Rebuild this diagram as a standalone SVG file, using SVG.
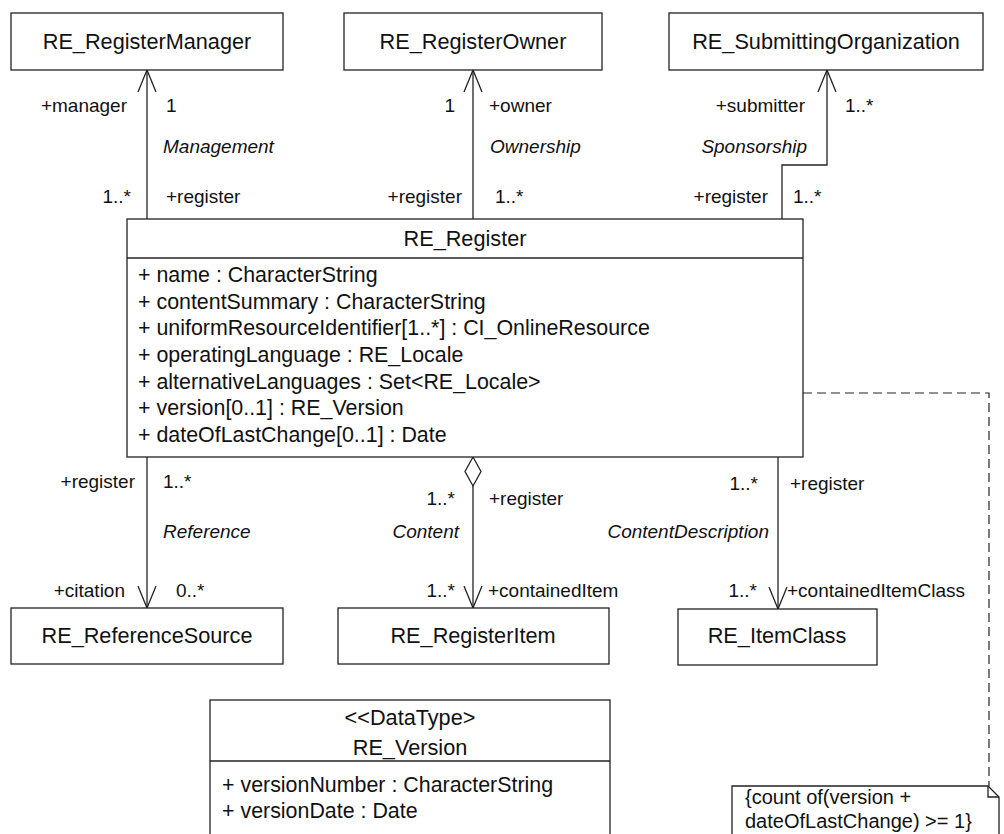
<svg xmlns="http://www.w3.org/2000/svg" width="1004" height="834" viewBox="0 0 1004 834">
<style>
  .box { fill: #ffffff; stroke: #222222; stroke-width: 1.3; }
  .ln { fill: none; stroke: #222222; stroke-width: 1.3; }
  .dash { fill: none; stroke: #222222; stroke-width: 1.2; stroke-dasharray: 9,5; }
  .cls { font-family: "Liberation Sans", Arial, sans-serif; font-size: 21.7px; fill: #111111; text-anchor: middle; }
  .attr { font-family: "Liberation Sans", Arial, sans-serif; font-size: 21.4px; fill: #111111; }
  .note { font-family: "Liberation Sans", Arial, sans-serif; font-size: 20px; fill: #111111; }
  .lbl { font-family: "Liberation Sans", Arial, sans-serif; font-size: 19px; fill: #111111; }
  .end { text-anchor: end; }
  .it { font-style: italic; }
</style>
<defs>
  <marker id="open" viewBox="0 -10 23 20" refX="22" refY="0" markerWidth="23" markerHeight="20" orient="auto" markerUnits="userSpaceOnUse">
    <path d="M0,-9 L22,0 L0,9" fill="none" stroke="#222222" stroke-width="1.3"/>
  </marker>
</defs>
<rect width="1004" height="834" fill="#ffffff"/>

<g id="connectors">
  <path class="ln" d="M147,219 V70" marker-end="url(#open)"/>
  <path class="ln" d="M473,219 V70" marker-end="url(#open)"/>
  <path class="ln" d="M782,219 V165 H827 V70" marker-end="url(#open)"/>
  <path class="ln" d="M147,457 V608" marker-end="url(#open)"/>
  <path class="ln" d="M473,486 V608" marker-end="url(#open)"/>
  <path class="box" d="M473,457 L481,471.5 L473,486 L465,471.5 Z"/>
  <path class="ln" d="M778,457 V609" marker-end="url(#open)"/>
  <path class="dash" d="M803,393 H989 V786"/>

  <text class="lbl end" x="127" y="112">+manager</text>
  <text class="lbl" x="166" y="112">1</text>
  <text class="lbl it" x="163" y="153">Management</text>
  <text class="lbl end" x="131" y="203">1..*</text>
  <text class="lbl" x="166" y="203">+register</text>

  <text class="lbl end" x="455" y="112">1</text>
  <text class="lbl" x="489" y="112">+owner</text>
  <text class="lbl it" x="490" y="153">Ownership</text>
  <text class="lbl end" x="462" y="203">+register</text>
  <text class="lbl" x="495" y="203">1..*</text>

  <text class="lbl end" x="805" y="112">+submitter</text>
  <text class="lbl" x="845" y="112">1..*</text>
  <text class="lbl it end" x="807" y="153">Sponsorship</text>
  <text class="lbl end" x="768" y="203">+register</text>
  <text class="lbl" x="793" y="203">1..*</text>

  <text class="lbl end" x="135" y="488">+register</text>
  <text class="lbl" x="163" y="488">1..*</text>
  <text class="lbl it" x="163" y="538">Reference</text>
  <text class="lbl end" x="125" y="597">+citation</text>
  <text class="lbl" x="176" y="597">0..*</text>

  <text class="lbl end" x="455" y="505">1..*</text>
  <text class="lbl" x="489" y="505">+register</text>
  <text class="lbl it end" x="459" y="538">Content</text>
  <text class="lbl end" x="455" y="597">1..*</text>
  <text class="lbl" x="488" y="597">+containedItem</text>

  <text class="lbl end" x="758" y="490">1..*</text>
  <text class="lbl" x="790" y="490">+register</text>
  <text class="lbl it end" x="769" y="538">ContentDescription</text>
  <text class="lbl end" x="757" y="597">1..*</text>
  <text class="lbl" x="787" y="597">+containedItemClass</text>
</g>

<g id="RE_RegisterManager">
  <rect class="box" x="11" y="13" width="272" height="57"/>
  <text class="cls" x="147" y="49">RE_RegisterManager</text>
</g>
<g id="RE_RegisterOwner">
  <rect class="box" x="344" y="13" width="258" height="57"/>
  <text class="cls" x="473" y="49">RE_RegisterOwner</text>
</g>
<g id="RE_SubmittingOrganization">
  <rect class="box" x="669" y="13" width="314" height="57"/>
  <text class="cls" x="826" y="49">RE_SubmittingOrganization</text>
</g>

<g id="RE_Register">
  <rect class="box" x="127" y="219" width="676" height="238"/>
  <line class="ln" x1="127" y1="258" x2="803" y2="258"/>
  <text class="cls" x="465" y="246">RE_Register</text>
  <text class="attr" x="138" y="282">+ name : CharacterString</text>
  <text class="attr" x="138" y="308.7">+ contentSummary : CharacterString</text>
  <text class="attr" x="138" y="335.3">+ uniformResourceIdentifier[1..*] : CI_OnlineResource</text>
  <text class="attr" x="138" y="362">+ operatingLanguage : RE_Locale</text>
  <text class="attr" x="138" y="388.7">+ alternativeLanguages : Set&lt;RE_Locale&gt;</text>
  <text class="attr" x="138" y="415.3">+ version[0..1] : RE_Version</text>
  <text class="attr" x="138" y="442">+ dateOfLastChange[0..1] : Date</text>
</g>

<g id="RE_ReferenceSource">
  <rect class="box" x="11" y="608" width="272" height="56"/>
  <text class="cls" x="147" y="643">RE_ReferenceSource</text>
</g>
<g id="RE_RegisterItem">
  <rect class="box" x="338" y="608" width="271" height="56"/>
  <text class="cls" x="473" y="643">RE_RegisterItem</text>
</g>
<g id="RE_ItemClass">
  <rect class="box" x="678" y="609" width="199" height="56"/>
  <text class="cls" x="777" y="643">RE_ItemClass</text>
</g>

<g id="RE_Version">
  <rect class="box" x="210" y="700" width="400" height="150"/>
  <line class="ln" x1="210" y1="761" x2="610" y2="761"/>
  <text class="cls" x="410" y="725">&lt;&lt;DataType&gt;</text>
  <text class="cls" x="410" y="755">RE_Version</text>
  <text class="attr" x="222" y="792">+ versionNumber : CharacterString</text>
  <text class="attr" x="222" y="818">+ versionDate : Date</text>
</g>

<g id="note">
  <path class="box" d="M732,786 H988 L999,797 V850 H732 Z"/>
  <path class="ln" d="M988,786 V797 H999"/>
  <text class="note" x="745" y="804">{count of(version +</text>
  <text class="note" x="745" y="828">dateOfLastChange) &gt;= 1}</text>
</g>
</svg>
